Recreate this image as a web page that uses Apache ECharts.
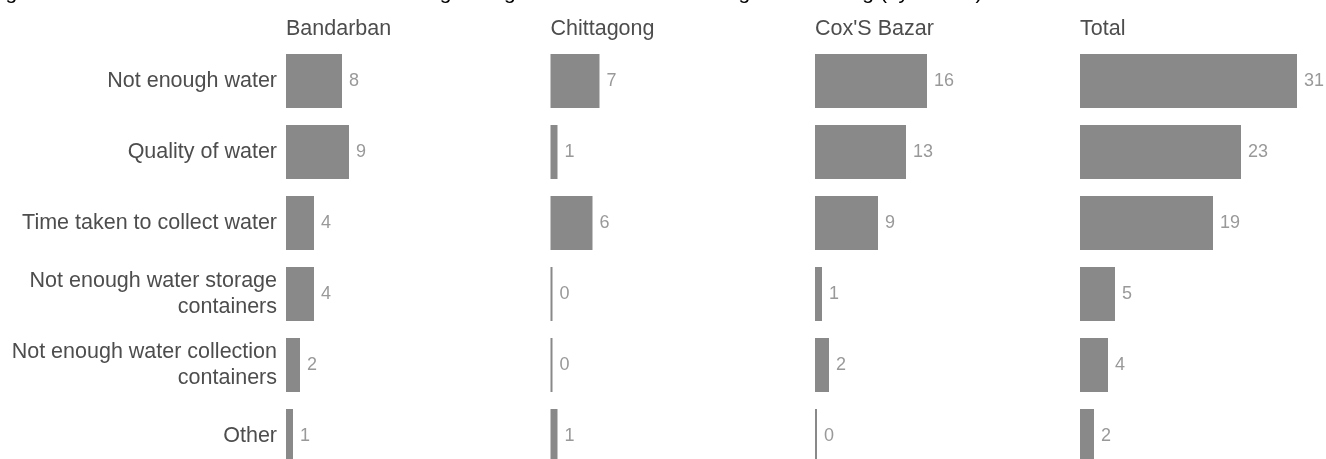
<!DOCTYPE html>
<html>
<head>
<meta charset="utf-8">
<title>Water problems by district</title>
<script src="https://cdn.jsdelivr.net/npm/echarts@6/dist/echarts.min.js"></script>
<style>
  html, body { margin: 0; padding: 0; background: #ffffff; overflow: hidden; }
  /* the drawing runs a little past the bottom of the 459px window, so the last row is cut */
  #chart { width: 1326px; height: 472px; }
</style>
</head>
<body>
<div id="chart"></div>
<script>
// Problem categories, top to bottom
const categories = [
  'Not enough water',
  'Quality of water',
  'Time taken to collect water',
  'Not enough water storage\ncontainers',
  'Not enough water collection\ncontainers',
  'Other'
];

// Panel headings (districts plus overall)
const panels = ['Bandarban', 'Chittagong', "Cox'S Bazar", 'Total'];

// Counts per panel, in category order
const bandarban  = [8, 9, 4, 4, 2, 1];
const chittagong = [7, 1, 6, 0, 0, 1];
const coxsBazar  = [16, 13, 9, 1, 2, 0];
const total      = [31, 23, 19, 5, 4, 2];

const figureTitle = 'Figure 31: Problems related to households having enough clean water for drinking and washing (by district)';

const panelData = [bandarban, chittagong, coxsBazar, total];
const panelLeft = [286, 550.5, 815, 1080];
const axisMax = 35;
const panelWidth = 245;

const FONT = 'Arial, "Liberation Sans", Helvetica, sans-serif';
const barColor = '#898989';
const labelColor = '#4d4d4d';

const grids = [], xAxes = [], yAxes = [], series = [], titles = [];

panels.forEach((name, i) => {
  grids.push({ left: panelLeft[i], top: 45.5, width: panelWidth, height: 426, containLabel: false });
  xAxes.push({
    type: 'value', gridIndex: i, min: 0, max: axisMax, show: false
  });
  yAxes.push({
    type: 'category', gridIndex: i, data: categories, inverse: true,
    axisLine: { show: false }, axisTick: { show: false }, splitLine: { show: false },
    axisLabel: {
      show: i === 0, margin: 9, color: labelColor, fontSize: 21.5, fontFamily: FONT,
      lineHeight: 26, align: 'right'
    }
  });
  series.push({
    type: 'bar', xAxisIndex: i, yAxisIndex: i, data: panelData[i],
    barWidth: 54, barMinHeight: 2,
    itemStyle: { color: barColor },
    label: {
      show: true, position: 'right', distance: 7,
      color: '#999999', fontSize: 18, fontFamily: FONT
    },
    silent: true, animation: false
  });
  titles.push({
    text: name, left: panelLeft[i], top: 18, padding: 0,
    textStyle: { color: labelColor, fontSize: 21.5, fontWeight: 'normal', fontFamily: FONT }
  });
});

const chart = echarts.init(document.getElementById('chart'), null, { renderer: 'canvas' });
chart.setOption({
  backgroundColor: '#ffffff',
  animation: false,
  title: titles,
  grid: grids,
  xAxis: xAxes,
  yAxis: yAxes,
  series: series,
  graphic: [{
    type: 'text', x: -12, y: -17, silent: true,
    style: { text: figureTitle, fill: '#000000', font: '21px ' + FONT }
  }]
});
</script>
</body>
</html>
